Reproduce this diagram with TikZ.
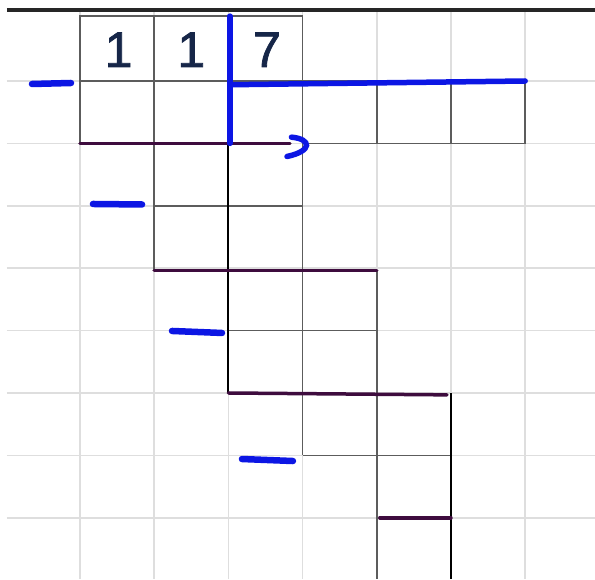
\documentclass[tikz,border=0pt]{standalone}
\usepackage{fontspec}
\newfontfamily\digitfont[FakeBold=1.6]{Liberation Sans}
\definecolor{penblue}{RGB}{12,22,228}
\definecolor{barpurple}{RGB}{62,12,62}
\definecolor{digitnavy}{RGB}{22,38,72}
\definecolor{faintgrey}{RGB}{222,222,222}
\definecolor{cellgrey}{RGB}{92,92,92}

\begin{document}
\begin{tikzpicture}[
    x=74.2pt, y=-62.4pt,
    faint/.style={draw=faintgrey, line width=1.5pt},
    cellline/.style={draw=cellgrey, line width=1.6pt},
    stem/.style={draw=black, line width=2.2pt},
    bar/.style={draw=barpurple, line width=3.5pt, line cap=round},
    pen/.style={draw=penblue, line width=5.5pt, line cap=round},
    minus/.style={draw=penblue, line width=6.5pt, line cap=round},
    digit/.style={font=\digitfont\fontsize{50}{50}\selectfont,
        text=digitnavy, inner sep=0pt, anchor=center}
]
    \useasboundingbox (-1.078, -0.298) rectangle (6.941, 8.981);

    % light squared paper
    \foreach \r in {1,...,8} {
        \draw[faint] (-0.984, \r) -- (6.941, \r);
    }
    \foreach \c in {0,...,6} {
        \draw[faint] (\c, -0.138) -- (\c, 8.981);
    }
    \draw[draw=black!85, line width=3.5pt] (-0.984, -0.138) -- (6.941, -0.138);

    % cells of the dividend and the partial results
    \draw[cellline] (0, -0.04) rectangle (3, 1);
    \draw[cellline] (0, 1) -- (0, 2);
    \draw[cellline] (1, -0.04) -- (1, 4.04);
    \draw[cellline] (3, -0.04) -- (3, 7);
    \draw[cellline] (3, 1) rectangle (6, 2);
    \draw[cellline] (4, 1) -- (4, 2);
    \draw[cellline] (5, 1) -- (5, 2);
    \draw[cellline] (1, 3) -- (3, 3);
    \draw[cellline] (4, 4.04) -- (4, 8.981);
    \draw[cellline] (2, 5) -- (4, 5);
    \draw[cellline] (3, 7) -- (5, 7);
    \draw[stem] (2, 2) -- (2, 6);
    \draw[stem] (5, 6) -- (5, 8.981);

    % subtraction bars
    \draw[bar] (0, 2) -- (2.83, 2);
    \draw[bar] (1, 4.04) -- (4, 4.04);
    \draw[bar] (2, 6.0) -- (4.946, 6.03);
    \draw[bar] (4.04, 8.0) -- (5, 8.0);

    % digits
    \node[digit] (d1) at (0.52, 0.5) {1};
    \node[digit] (d2) at (1.5, 0.5) {1};
    \node[digit] (d3) at (2.52, 0.5) {7};

    % division corner, in blue pen
    \draw[pen] (2.02, -0.04) -- (2.02, 2.0);
    \draw[pen] (2.02, 1.06) -- (6.0, 1.0);
    \draw[pen] (2.85, 1.90)
        .. controls (3.12, 1.93) and (3.14, 2.12) .. (2.79, 2.21);

    % minus signs
    \draw[minus] (-0.647, 1.048) -- (-0.121, 1.032);
    \draw[minus] (0.175, 2.971) -- (0.836, 2.979);
    \draw[minus] (1.24, 5.006) -- (1.914, 5.038);
    \draw[minus] (2.183, 7.058) -- (2.87, 7.09);
\end{tikzpicture}
\end{document}
